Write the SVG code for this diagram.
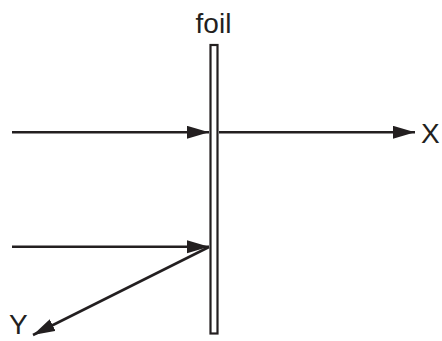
<svg xmlns="http://www.w3.org/2000/svg" width="442" height="341" viewBox="0 0 442 341">
<style>
.t{font-family:"Liberation Sans",Arial,sans-serif;font-size:28px;fill:#231f20}
.c{stroke:#231f20;stroke-width:2.6;fill:none}
</style>
<defs>
<marker id="ah" markerUnits="userSpaceOnUse" markerWidth="24" markerHeight="14" refX="22" refY="6.5" orient="auto">
<path d="M0,0 L22,6.5 L0,13 Z" fill="#231f20"/>
</marker>
</defs>
<rect width="442" height="341" fill="#fff"/>
<g id="foil">
<rect x="210.5" y="45" width="7" height="288.5" fill="#fff" stroke="#231f20" stroke-width="2.2"/>
<text class="t" x="213.5" y="33" text-anchor="middle">foil</text>
</g>
<g id="X"><text class="t" x="421" y="143">X</text></g>
<g id="Y"><text class="t" x="9" y="334">Y</text></g>
<g id="connectors">
<line class="c" x1="12" y1="132.3" x2="209" y2="132.3" marker-end="url(#ah)"/>
<line class="c" x1="219" y1="132.3" x2="415" y2="132.3" marker-end="url(#ah)"/>
<line class="c" x1="12" y1="246.7" x2="209" y2="246.7" marker-end="url(#ah)"/>
<line class="c" x1="209" y1="247" x2="33" y2="335" marker-end="url(#ah)"/>
</g>
</svg>
